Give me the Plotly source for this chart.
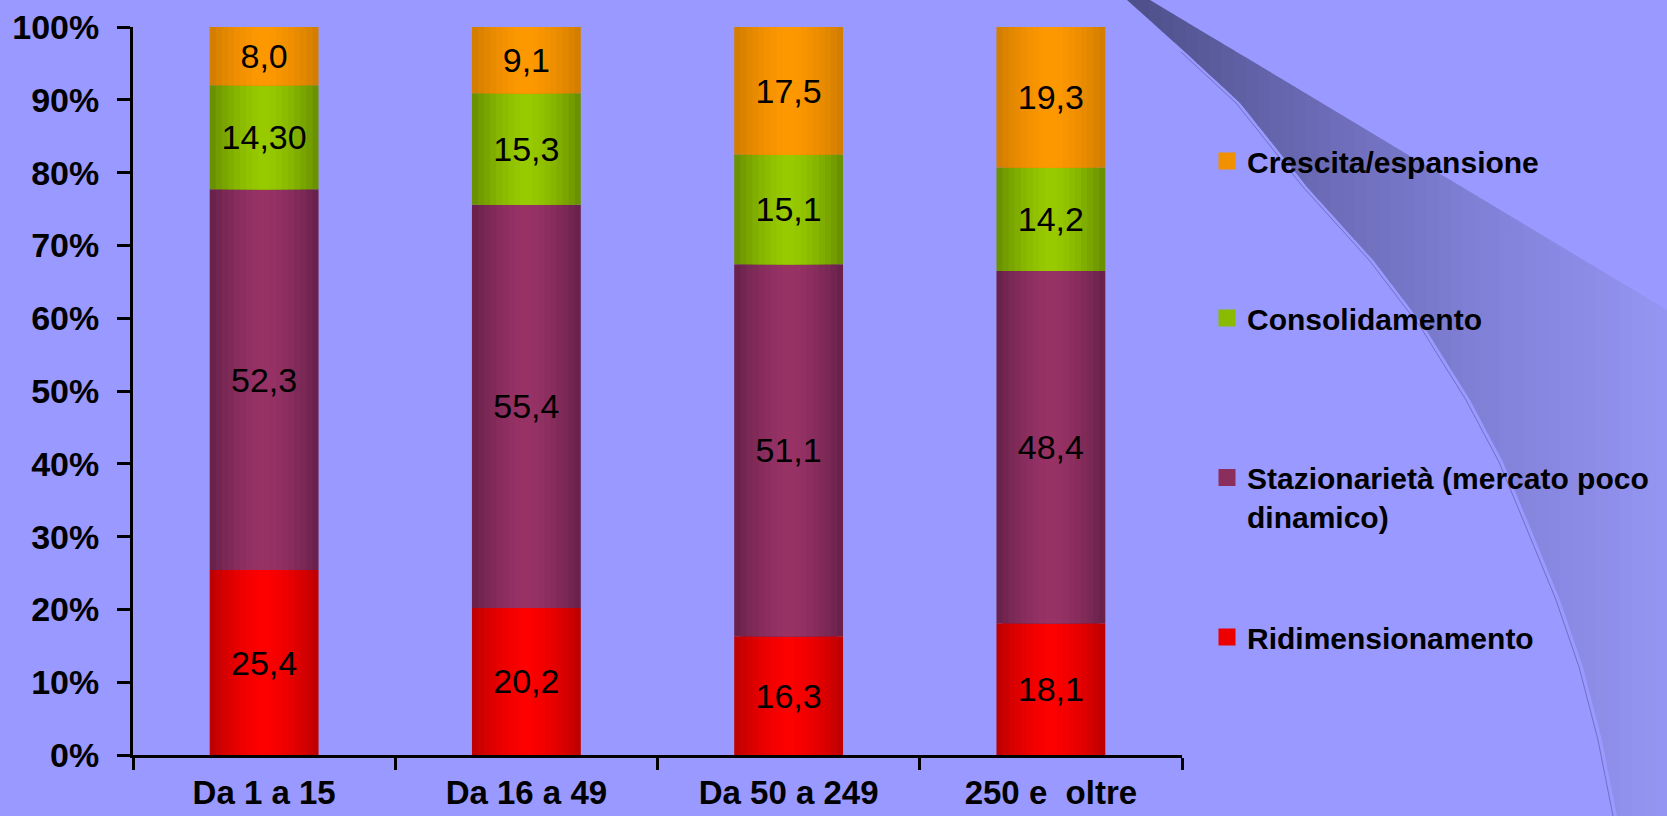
import plotly.graph_objects as go

# ---------------- data ----------------
categories = ["Da 1 a 15", "Da 16 a 49", "Da 50 a 249", "250 e  oltre"]
ridimensionamento = [25.4, 20.2, 16.3, 18.1]
stazionarieta = [52.3, 55.4, 51.1, 48.4]
consolidamento = [14.3, 15.3, 15.1, 14.2]
crescita = [8.0, 9.1, 17.5, 19.3]
ridimensionamento_labels = ["25,4", "20,2", "16,3", "18,1"]
stazionarieta_labels = ["52,3", "55,4", "51,1", "48,4"]
consolidamento_labels = ["14,30", "15,3", "15,1", "14,2"]
crescita_labels = ["8,0", "9,1", "17,5", "19,3"]
series_names = ["Ridimensionamento", "Stazionarietà (mercato poco<br>dinamico)",
                "Consolidamento", "Crescita/espansione"]
y_tick_values = [0, 10, 20, 30, 40, 50, 60, 70, 80, 90, 100]
y_tick_labels = ["0%", "10%", "20%", "30%", "40%", "50%", "60%", "70%", "80%", "90%", "100%"]

# ---------------- style ----------------
FONT = "Liberation Sans, Arial, sans-serif"
BG = "#9999FF"
W_PX, H_PX = 1667, 816
L, R, T, B = 133, 485, 27, 61
PW, PH = W_PX - L - R, H_PX - T - B

series_values = [ridimensionamento, stazionarieta, consolidamento, crescita]
series_labels = [ridimensionamento_labels, stazionarieta_labels, consolidamento_labels, crescita_labels]
edge_colors = [(192, 0, 0), (106, 34, 76), (106, 146, 0), (212, 126, 0)]
center_colors = [(255, 0, 0), (153, 51, 102), (153, 204, 0), (255, 153, 0)]
legend_ids = ["legend4", "legend3", "legend2", "legend"]


def mix(c1, c2, t):
    return "rgb(%d,%d,%d)" % tuple(round(a + (b - a) * t) for a, b in zip(c1, c2))


fig = go.Figure()

BAR_W = 0.415
N_LAYERS = 9
bases = []
running = [0.0] * len(categories)
for vals in series_values:
    bases.append(list(running))
    running = [r + v for r, v in zip(running, vals)]

# gradient-shaded stacked bars (layers of decreasing width)
for s, vals in enumerate(series_values):
    for k in range(N_LAYERS):
        frac = 1 - k / N_LAYERS
        t = 1 - frac ** 1.6
        fig.add_trace(go.Bar(
            x=categories, y=vals, base=bases[s], width=BAR_W * frac,
            marker=dict(color=mix(edge_colors[s], center_colors[s], t), line=dict(width=0)),
            name=series_names[s], showlegend=False, legendgroup=str(s),
            hoverinfo="skip",
        ))

# value labels
for s, vals in enumerate(series_values):
    fig.add_trace(go.Bar(
        x=categories, y=vals, base=bases[s], width=BAR_W,
        marker=dict(color="rgba(0,0,0,0)", line=dict(width=0)),
        text=series_labels[s], textposition="inside", insidetextanchor="middle",
        textangle=0, constraintext="none",
        textfont=dict(family=FONT, size=34, color="black"),
        showlegend=False, legendgroup=str(s), hoverinfo="skip",
    ))

# legend entries (one legend per series, placed like the original)
for s in range(len(series_values)):
    c = mix(edge_colors[s], center_colors[s], 0.7)
    fig.add_trace(go.Bar(
        x=categories, y=[None] * len(categories),
        marker=dict(color=c, line=dict(width=5, color=c)),
        name=series_names[s], showlegend=True, legend=legend_ids[s],
        legendgroup=str(s), hoverinfo="skip",
    ))

# ---------------- decorative swoosh (background) ----------------
left_curve = [(1127, 0), (1185, 52), (1240, 103), (1307, 187), (1373, 260),
              (1425, 328), (1470, 400), (1503, 462), (1530, 527), (1560, 600),
              (1583, 667), (1602, 740), (1617, 816)]
poly = left_curve + [(1667, 816), (1667, 310), (1150, 0)]

stops = [(1120, (76, 78, 134)), (1300, (104, 104, 178)), (1480, (128, 128, 215)), (1667, (149, 149, 243))]


def color_at(x):
    for (x0, c0), (x1, c1) in zip(stops[:-1], stops[1:]):
        if x <= x1:
            t = max(0.0, (x - x0) / (x1 - x0))
            return mix(c0, c1, t)
    return mix(stops[-1][1], stops[-1][1], 0)


def clip(pts, xc, keep_greater):
    out = []
    n = len(pts)
    for i in range(n):
        p, q = pts[i], pts[(i + 1) % n]
        pin = p[0] >= xc if keep_greater else p[0] <= xc
        qin = q[0] >= xc if keep_greater else q[0] <= xc
        if pin:
            out.append(p)
        if pin != qin:
            tt = (xc - p[0]) / (q[0] - p[0])
            out.append((xc, p[1] + tt * (q[1] - p[1])))
    return out


def to_paper(p):
    return ((p[0] - L) / PW, (H_PX - B - p[1]) / PH)


shapes = []
N_STRIPS = 45
x_start, x_end = 1125, 1668
step = (x_end - x_start) / N_STRIPS
for i in range(N_STRIPS):
    a = x_start + i * step
    b = a + step + 0.8
    piece = clip(clip(poly, a, True), b, False)
    if len(piece) < 3:
        continue
    path = "M " + " L ".join("%.5f,%.5f" % to_paper(p) for p in piece) + " Z"
    shapes.append(dict(type="path", xref="paper", yref="paper", path=path,
                       fillcolor=color_at(a + step / 2), line=dict(width=0), layer="below"))

edge_line = [(x - 4, y) for x, y in left_curve[1:]]
shapes.append(dict(type="path", xref="paper", yref="paper",
                   path="M " + " L ".join("%.5f,%.5f" % to_paper(p) for p in edge_line),
                   line=dict(width=1, color="rgba(95,95,170,0.7)"), layer="below"))

# ---------------- layout ----------------
legend_common = dict(xanchor="left", yanchor="middle", bgcolor="rgba(0,0,0,0)",
                     borderwidth=0, valign="top",
                     font=dict(family=FONT, size=30, color="black", weight="bold"))
lx = (1207 - L) / PW


def ly(pix):
    return (H_PX - B - pix) / PH


fig.update_layout(
    width=W_PX, height=H_PX,
    margin=dict(l=L, r=R, t=T, b=B, pad=0, autoexpand=False),
    paper_bgcolor=BG, plot_bgcolor="rgba(0,0,0,0)",
    barmode="overlay",
    font=dict(family=FONT, color="black"),
    shapes=shapes,
    legend=dict(x=lx, y=ly(161), **legend_common),
    legend2=dict(x=lx, y=ly(318), **legend_common),
    legend3=dict(x=lx, y=ly(497), **legend_common),
    legend4=dict(x=lx, y=ly(637), **legend_common),
    xaxis=dict(
        type="category", range=[-0.5, 3.5], showline=True, linecolor="black", linewidth=3,
        ticks="outside", tickson="boundaries", ticklen=12, tickwidth=3, tickcolor="black",
        showgrid=False, zeroline=False, ticklabelstandoff=6, automargin=False,
        tickfont=dict(family=FONT, size=33, color="black", weight="bold"),
    ),
    yaxis=dict(
        range=[0, 100], tickvals=y_tick_values, ticktext=y_tick_labels,
        showline=True, linecolor="black", linewidth=3, automargin=False,
        ticks="outside", ticklen=13, tickwidth=3, tickcolor="black",
        showgrid=False, zeroline=False, ticklabelstandoff=11,
        tickfont=dict(family=FONT, size=34, color="black", weight="bold"),
    ),
)

fig.write_html("out.html", config={"displayModeBar": False},
               post_script="document.body.style.margin='0';document.body.style.background='" + BG + "';")
